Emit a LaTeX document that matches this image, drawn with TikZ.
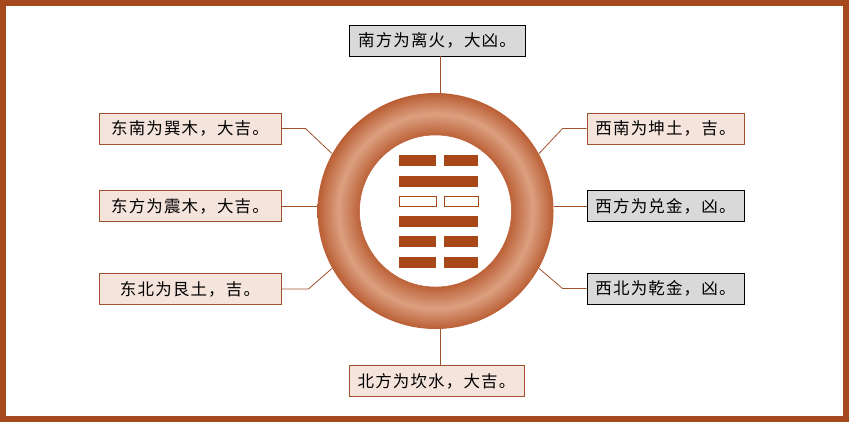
\documentclass[tikz,border=0pt]{standalone}
\usepackage{fontspec}
\newfontfamily\cjk[LetterSpace=7]{Noto Sans CJK SC}
\usetikzlibrary{calc}

\definecolor{framebrown}{RGB}{166,74,30}
\definecolor{yaobrown}{RGB}{168,72,24}
\definecolor{ringdark}{RGB}{186,94,52}
\definecolor{ringlight}{RGB}{220,160,128}
\definecolor{linkbrown}{RGB}{160,82,45}
\definecolor{goodfill}{RGB}{245,228,220}
\definecolor{badfill}{RGB}{217,217,217}

\pgfdeclareradialshading{ringshade}{\pgfpoint{0bp}{0bp}}{%
  color(0bp)=(white); color(15.8bp)=(ringdark); color(20.6bp)=(ringlight);
  color(25bp)=(ringdark); color(50bp)=(ringdark)}

\begin{document}
\begin{tikzpicture}[x=1bp,y=-1bp]
    % --- Dimensions ---
    \def\CX{435.5}     % centre of the ring
    \def\CY{211}
    \def\OuterR{118}   % outer radius of the ring
    \def\InnerR{76}    % inner radius (white disc)
    \def\YaoL{399}     % left end of the lines
    \def\YaoR{478}     % right end of the lines
    \def\YaoMid{440}   % middle of a broken line
    \def\YaoH{11}      % thickness of one line
    \def\YaoGap{8}     % gap of a broken line
    \def\YaoStep{20.3} % distance between lines

    % --- Styles ---
    \tikzset{
        dir box/.style={
            font=\cjk\fontsize{16.5bp}{19bp}\selectfont,
            minimum height=31bp,
            inner sep=0pt,
            line width=0.9bp
        },
        good box/.style={dir box, fill=goodfill, draw=linkbrown},
        bad box/.style={dir box, fill=badfill, draw=black},
        link line/.style={draw=linkbrown, line width=0.8bp},
        yao style/.style={fill=yaobrown},
        hollow yao/.style={draw=yaobrown, fill=white, line width=0.9bp}
    }

    \useasboundingbox (0,0) rectangle (849,422);

    % =========================================================
    % 1. OUTER FRAME
    % =========================================================
    \draw[framebrown, line width=6bp] (3,3) rectangle (846,419);

    % =========================================================
    % 2. RING
    % =========================================================
    \node[circle, minimum size=\OuterR*2bp, inner sep=0pt, shading=ringshade] (ring) at (\CX,\CY) {};
    \fill[white] (ring.center) circle[radius=\InnerR];
    \draw[ringdark, line width=0.5bp] (ring.center) circle[radius=\InnerR];

    % =========================================================
    % 3. HEXAGRAM (top to bottom: 0 = broken, 1 = solid, 2 = hollow broken)
    % =========================================================
    \foreach \kind [count=\i from 0] in {0,1,2,1,0,0} {
        \pgfmathsetmacro{\yy}{\CY+(\i-2.5)*\YaoStep+0.5}
        \ifnum\kind=1
            \fill[yao style] (\YaoL,\yy-\YaoH/2) rectangle (\YaoR,\yy+\YaoH/2);
        \else\ifnum\kind=0
            \fill[yao style] (\YaoL,\yy-\YaoH/2) rectangle (\YaoMid-\YaoGap/2,\yy+\YaoH/2);
            \fill[yao style] (\YaoMid+\YaoGap/2,\yy-\YaoH/2) rectangle (\YaoR,\yy+\YaoH/2);
        \else
            \draw[hollow yao] (\YaoL,\yy-\YaoH/2+0.5) rectangle (\YaoMid-\YaoGap/2,\yy+\YaoH/2-0.5);
            \draw[hollow yao] (\YaoMid+\YaoGap/2,\yy-\YaoH/2+0.5) rectangle (\YaoR,\yy+\YaoH/2-0.5);
        \fi\fi
    }

    % =========================================================
    % 4. DIRECTION BOXES
    % =========================================================
    \node[bad box, minimum width=176bp]  (south) at (437,40.5)  {南方为离火，大凶。};
    \node[good box, minimum width=175bp] (north) at (436.5,381) {北方为坎水，大吉。};

    \node[good box, minimum width=182bp] (southeast) at (190,128.5) {东南为巽木，大吉。};
    \node[good box, minimum width=182bp] (east)      at (190,206)   {东方为震木，大吉。};
    \node[good box, minimum width=182bp] (northeast) at (190,289)   {东北为艮土，吉。};

    \node[good box, minimum width=157bp] (southwest) at (665.5,128.5) {西南为坤土，吉。};
    \node[bad box, minimum width=157bp]  (west)      at (665.5,206)   {西方为兑金，凶。};
    \node[bad box, minimum width=157bp]  (northwest) at (665.5,288.5) {西北为乾金，凶。};

    % =========================================================
    % 5. CONNECTORS
    % =========================================================
    \draw[link line] ([xshift=3.5bp]south.south) -- ([xshift=3.5bp]south.south |- ring.north);
    \draw[link line] ([xshift=3.5bp]north.north) -- ([xshift=3.5bp]north.north |- ring.south);

    \draw[link line] (east.east) -- (east.east -| ring.west);
    \draw[link line] (west.west) -- (west.west -| ring.east);

    \draw[link line] (southeast.east) -- +(24,0) -- (ring.151);
    \draw[link line] (northeast.east) -- +(27,0) -- (ring.209);
    \draw[link line] (southwest.west) -- +(-24,0) -- (ring.29);
    \draw[link line] (northwest.west) -- +(-24,0) -- (ring.-29);

\end{tikzpicture}
\end{document}
